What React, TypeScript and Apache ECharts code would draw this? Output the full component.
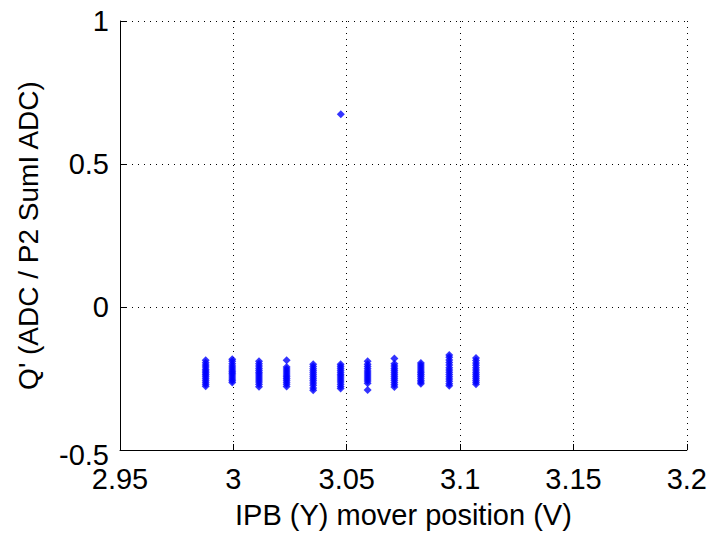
import React, { useEffect, useRef } from "react";
import * as echarts from "echarts";

const xTicks = [2.95, 3, 3.05, 3.1, 3.15, 3.2];
const yTicks = [-0.5, 0, 0.5, 1];

const clusterX = [2.9878, 2.9995, 3.0113, 3.0235, 3.0352, 3.0473, 3.0592, 3.071, 3.0827, 3.0952, 3.107];

const c1 = [-0.186, -0.195, -0.203, -0.21, -0.218, -0.224, -0.23, -0.236, -0.242, -0.249, -0.256, -0.263, -0.27, -0.277];
const c2 = [-0.183, -0.19, -0.198, -0.206, -0.213, -0.22, -0.226, -0.232, -0.238, -0.245, -0.252, -0.258, -0.264];
const c3 = [-0.19, -0.198, -0.206, -0.214, -0.221, -0.228, -0.234, -0.241, -0.248, -0.255, -0.262, -0.27, -0.279];
const c4 = [-0.186, -0.21, -0.217, -0.224, -0.231, -0.238, -0.244, -0.25, -0.256, -0.263, -0.27, -0.278];
const c5 = [-0.2, -0.208, -0.216, -0.223, -0.23, -0.237, -0.244, -0.251, -0.258, -0.266, -0.274, -0.283, -0.291];
const c6 = [-0.2, -0.207, -0.214, -0.221, -0.228, -0.235, -0.241, -0.248, -0.255, -0.262, -0.27, -0.278, -0.285];
const c7 = [-0.19, -0.2, -0.208, -0.216, -0.224, -0.231, -0.238, -0.245, -0.252, -0.259, -0.267, -0.29];
const c8 = [-0.18, -0.198, -0.206, -0.214, -0.221, -0.228, -0.235, -0.242, -0.249, -0.256, -0.264, -0.272, -0.28];
const c9 = [-0.196, -0.203, -0.21, -0.217, -0.224, -0.23, -0.236, -0.242, -0.249, -0.256, -0.262, -0.268];
const c10 = [-0.168, -0.176, -0.185, -0.194, -0.203, -0.212, -0.22, -0.228, -0.236, -0.244, -0.252, -0.26, -0.268, -0.275];
const c11 = [-0.178, -0.187, -0.196, -0.204, -0.212, -0.22, -0.228, -0.235, -0.242, -0.249, -0.256, -0.263, -0.27];

const clusterY = [c1, c2, c3, c4, c5, c6, c7, c8, c9, c10, c11];

const outlier = [3.0474, 0.674];

export default function App() {
  const ref = useRef<HTMLDivElement>(null);
  useEffect(() => {
    document.body.style.margin = "0";
    const chart = echarts.init(ref.current!, null, { renderer: "svg" });
    const points: number[][] = [];
    clusterX.forEach((x, i) => {
      clusterY[i].forEach((y) => points.push([x, y]));
    });
    points.push(outlier);
    const font = "Liberation Sans, Arial, sans-serif";
    chart.setOption({
      animation: false,
      backgroundColor: "#ffffff",
      grid: { left: 120, right: 23, top: 21, bottom: 80, containLabel: false },
      xAxis: {
        type: "value",
        min: 2.95,
        max: 3.2,
        interval: 0.05,
        name: "IPB (Y) mover position (V)",
        nameLocation: "middle",
        nameGap: 50,
        nameTextStyle: { color: "#000", fontSize: 29, fontFamily: font },
        axisLine: { show: true, onZero: false, lineStyle: { color: "#000", width: 1 } },
        axisTick: { show: true, inside: true, length: 6, lineStyle: { color: "#000" } },
        axisLabel: {
          color: "#000",
          fontSize: 29,
          fontFamily: font,
          margin: 14,
          formatter: (v: number) => String(Math.round(v * 100) / 100),
        },
        splitLine: { show: true, lineStyle: { color: "#000", type: [1, 5], width: 1 } },
      },
      yAxis: {
        type: "value",
        min: -0.5,
        max: 1,
        interval: 0.5,
        name: "Q' (ADC / P2 SumI ADC)",
        nameLocation: "middle",
        nameGap: 78,
        nameTextStyle: { color: "#000", fontSize: 28, fontFamily: font },
        axisLine: { show: true, onZero: false, lineStyle: { color: "#000", width: 1 } },
        axisTick: { show: true, inside: true, length: 6, lineStyle: { color: "#000" } },
        axisLabel: {
          color: "#000",
          fontSize: 29,
          fontFamily: font,
          margin: 11,
          formatter: (v: number) => (v === -0.5 ? "{low|-0.5}" : String(v)),
          rich: { low: { fontSize: 29, fontFamily: font, color: "#000", padding: [10, 0, 0, 0] } },
        },
        splitLine: { show: true, lineStyle: { color: "#000", type: [1, 5], width: 1 } },
      },
      series: [
        {
          type: "scatter",
          data: points,
          symbol: "diamond",
          symbolSize: 8,
          itemStyle: { color: "#0000ff" },
        },
      ],
    });
    return () => chart.dispose();
  }, []);
  return <div ref={ref} style={{ width: 710, height: 534, background: "#fff" }} />;
}
